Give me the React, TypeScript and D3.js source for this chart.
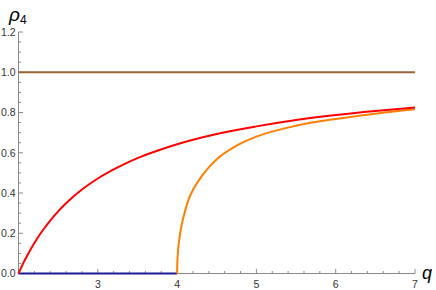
import React from "react";
import * as d3 from "d3";

const redQ = [2, 2.05, 2.1, 2.2, 2.3, 2.4, 2.5, 2.6, 2.8, 3.0, 3.25, 3.5, 3.75, 4.0, 4.5, 5.0, 5.5, 6.0, 6.5, 7];
const redV = [0, 0.043, 0.082, 0.152, 0.211, 0.263, 0.309, 0.349, 0.417, 0.472, 0.527, 0.573, 0.61, 0.642, 0.693, 0.731, 0.763, 0.788, 0.808, 0.825];
const orangeQ = [4, 4.002, 4.01, 4.03, 4.06, 4.1, 4.15, 4.2, 4.3, 4.4, 4.5, 4.75, 5.0, 5.5, 6.0, 6.5, 7];
const orangeV = [0, 0.046, 0.103, 0.177, 0.246, 0.31, 0.373, 0.415, 0.478, 0.527, 0.568, 0.635, 0.68, 0.734, 0.768, 0.794, 0.816];
const brownQ = [2, 7];
const brownV = [1, 1];
const blueQ = [2, 4];
const blueV = [0, 0];
const xMajor = [3, 4, 5, 6, 7];
const yMajor = [0, 0.2, 0.4, 0.6, 0.8, 1.0, 1.2];

const W = 436, H = 290;

export default function App() {
  const x = d3.scaleLinear().domain([2, 7]).range([18.5, 415]);
  const y = d3.scaleLinear().domain([0, 1.2]).range([273.5, 32]);
  const line = (qs: number[], vs: number[]) =>
    d3.line<number>().x((_, i) => x(qs[i])).y((_, i) => y(vs[i])).curve(d3.curveMonotoneX)(vs) || "";

  const xMinor = d3.range(2, 7.0001, 0.2).map((v) => +v.toFixed(2));
  const yMinor = d3.range(0, 1.2001, 0.05).map((v) => +v.toFixed(2));
  const axisColor = "#8a8a8a";
  const font = "'Liberation Sans', Arial, sans-serif";

  return (
    <svg width={W} height={H} style={{ position: "absolute", left: 0, top: 0, background: "#fff" }}>
      <line x1={x(2)} x2={x(7)} y1={y(0)} y2={y(0)} stroke={axisColor} strokeWidth={1} />
      <line x1={x(2)} x2={x(2)} y1={y(0)} y2={y(1.2)} stroke={axisColor} strokeWidth={1} />
      {xMinor.map((v) => {
        const major = xMajor.some((m) => Math.abs(m - v) < 1e-6);
        return (
          <line key={"xt" + v} x1={x(v)} x2={x(v)} y1={y(0)} y2={y(0) - (major ? 4.5 : 2.5)} stroke={axisColor} strokeWidth={1} />
        );
      })}
      {yMinor.map((v) => {
        const major = yMajor.some((m) => Math.abs(m - v) < 1e-6);
        return (
          <line key={"yt" + v} x1={x(2)} x2={x(2) + (major ? 4.5 : 2.5)} y1={y(v)} y2={y(v)} stroke={axisColor} strokeWidth={1} />
        );
      })}
      {xMajor.map((v) => (
        <text key={"xl" + v} x={x(v)} y={y(0) + 14} textAnchor="middle" fontSize={10.5} fontFamily={font} fill="#333">
          {v}
        </text>
      ))}
      {yMajor.map((v) => (
        <text key={"yl" + v} x={x(2) - 3} y={y(v) + 3.8} textAnchor="end" fontSize={10.5} fontFamily={font} fill="#333">
          {v.toFixed(1)}
        </text>
      ))}
      <path d={line(blueQ, blueV)} fill="none" stroke="#1c1c94" strokeWidth={2} />
      <path d={line(brownQ, brownV)} fill="none" stroke="#996633" strokeWidth={2} />
      <path d={line(orangeQ, orangeV)} fill="none" stroke="#ff8000" strokeWidth={2} />
      <path d={line(redQ, redV)} fill="none" stroke="#ff0000" strokeWidth={2} />
      <text x={9} y={21} fontSize={19} fontFamily={font} fontStyle="italic" fill="#000">
        ρ<tspan fontSize={12} fontStyle="normal" dy={3}>4</tspan>
      </text>
      <text x={422} y={279} fontSize={18} fontFamily={font} fontStyle="italic" fill="#000">
        q
      </text>
    </svg>
  );
}
